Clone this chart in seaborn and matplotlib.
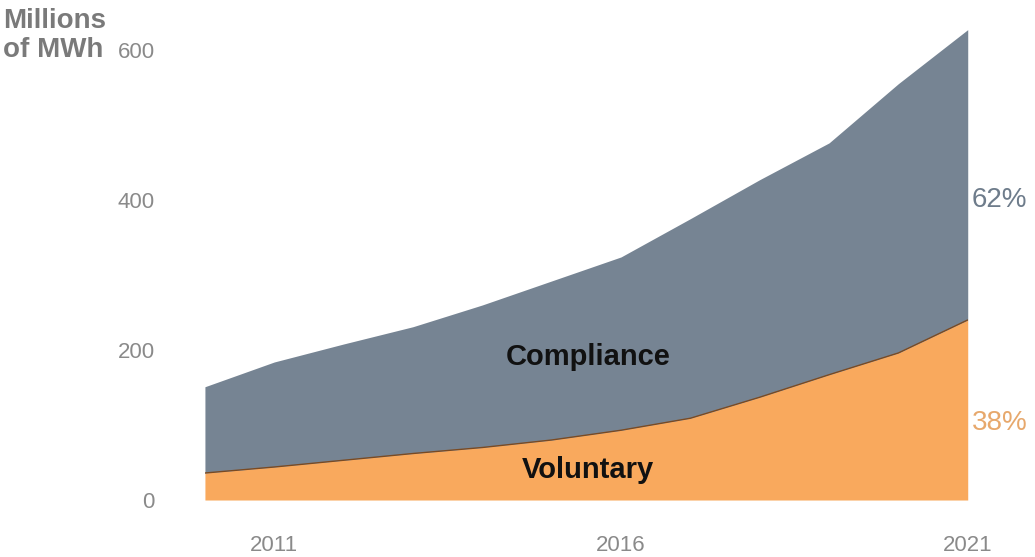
import matplotlib
matplotlib.use("Agg")
import matplotlib.pyplot as plt
import seaborn as sns
import pandas as pd

# Annual renewable energy certificate demand, millions of MWh
years = [2010, 2011, 2012, 2013, 2014, 2015, 2016, 2017, 2018, 2019, 2020, 2021]
total = [151, 184, 208, 231, 260, 292, 324, 375, 427, 476, 555, 627]
voluntary = [36, 44, 53, 62, 70, 80, 93, 109, 137, 167, 196, 240]
compliance = [t - v for t, v in zip(total, voluntary)]

series_names = ["Voluntary", "Compliance"]
share_labels = ["38%", "62%"]
y_ticks = [0, 200, 400, 600]
x_ticks = [2011, 2016, 2021]

df = pd.DataFrame({"year": years, "Voluntary": voluntary, "Compliance": compliance})

sns.set_theme(style="white")
plt.rcParams["font.family"] = ["Liberation Sans", "DejaVu Sans"]

ORANGE = "#F9A95D"
SLATE = "#768493"
GREY_TEXT = "#8a8a8a"

fig = plt.figure(figsize=(10.35, 5.57), dpi=100)
ax = fig.add_axes([0.198, 0.1023, 0.737, 0.862])

ax.stackplot(df["year"], df["Voluntary"], df["Compliance"],
             colors=[ORANGE, SLATE], linewidth=0)
sns.lineplot(x=df["year"], y=df["Voluntary"], ax=ax, color="#7a4a22", linewidth=1.0)

ax.set_xlim(2010, 2021)
ax.set_ylim(0, 640)
ax.set_xticks(x_ticks)
ax.set_yticks(y_ticks)
ax.tick_params(axis="x", length=0, pad=25, labelsize=16, labelcolor=GREY_TEXT)
ax.tick_params(axis="y", length=0, pad=36, labelsize=16, labelcolor=GREY_TEXT)
ax.set_xlabel("")
ax.set_ylabel("")
sns.despine(ax=ax, left=True, bottom=True)

# Series labels inside the areas
ax.text(2015.52, 190, series_names[1], ha="center", va="center",
        fontsize=21, fontweight="bold", color="#111111")
ax.text(2015.52, 40, series_names[0], ha="center", va="center",
        fontsize=21, fontweight="bold", color="#111111")

# Shares for the final year
ax.text(1.005, 400 / 640, share_labels[1], transform=ax.transAxes,
        ha="left", va="center", fontsize=20, color="#6e7c8b")
ax.text(1.005, 103 / 640, share_labels[0], transform=ax.transAxes,
        ha="left", va="center", fontsize=20, color="#E7A86C")

# Unit label
fig.text(0.003, 0.985, "Millions\nof MWh", ha="left", va="top",
         fontsize=20, fontweight="bold", color="#7a7a7a", linespacing=1.15)

fig.savefig("out.png", dpi=100, facecolor="white")
